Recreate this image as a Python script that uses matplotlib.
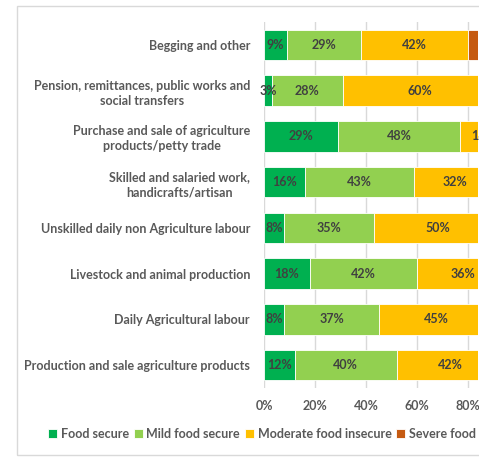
import matplotlib
matplotlib.use("Agg")
import matplotlib.pyplot as plt
from matplotlib.patches import Rectangle
import numpy as np

categories = [
    "Begging and other",
    "Pension, remittances, public works and\nsocial transfers",
    "Purchase and sale of agriculture\nproducts/petty trade",
    "Skilled and salaried work,\nhandicrafts/artisan",
    "Unskilled daily non Agriculture labour",
    "Livestock and animal production",
    "Daily Agricultural labour",
    "Production and sale agriculture products",
]
series_names = ["Food secure", "Mild food secure", "Moderate food insecure", "Severe food insecure"]
food_secure = [9, 3, 29, 16, 8, 18, 8, 12]
mild_secure = [29, 28, 48, 43, 35, 42, 37, 40]
moderate_insecure = [42, 60, 18, 32, 50, 36, 45, 42]
severe_insecure = [20, 9, 5, 9, 7, 4, 10, 6]
xticks = [0, 20, 40, 60, 80, 100]
xtick_labels = ["0%", "20%", "40%", "60%", "80%", "100%"]

colors = ["#00B050", "#92D050", "#FFC000", "#C55A11"]
label_color = "#595959"
data_color = "#404040"
FONT = "Lato"
FS = 9

W, H = 491, 476
fig = plt.figure(figsize=(W / 100, H / 100), dpi=100)
fig.patch.set_facecolor("white")

# axes placement in pixels
left, right, top, bottom = 264, 478.3, 22, 388
ax = fig.add_axes([left / W, 1 - bottom / H, (right - left) / W, (bottom - top) / H])

y = np.arange(len(categories))
series = [food_secure, mild_secure, moderate_insecure, severe_insecure]
cum = np.zeros(len(categories))
for vals, col, name in zip(series, colors, series_names):
    vals = np.array(vals, dtype=float)
    ax.barh(y, vals, left=cum, height=0.67, color=col, edgecolor="white",
            linewidth=0.6, label=name, zorder=2)
    for yi, v, c in zip(y, vals, cum):
        ax.text(c + v / 2, yi, f"{int(v)}%", ha="center", va="center",
                fontsize=FS, fontweight="bold", color=data_color, family=FONT,
                zorder=3, clip_on=False)
    cum += vals

ax.set_yticks(y)
ax.set_yticklabels(categories, fontsize=FS, fontweight="bold", color=label_color,
                   family=FONT, linespacing=1.3, multialignment="center")
ax.set_xticks(xticks)
ax.set_xticklabels(xtick_labels, fontsize=FS, fontweight="bold", color=label_color, family=FONT)
ax.set_ylim(len(categories) - 0.5, -0.5)
ax.set_xlim(0, (right - left) / 2.55)
ax.tick_params(axis="both", length=0)
ax.tick_params(axis="x", pad=9)
ax.tick_params(axis="y", pad=10)
for s in ax.spines.values():
    s.set_visible(False)
ax.grid(axis="x", color="#d9d9d9", linewidth=1, zorder=0)
ax.set_axisbelow(True)

handles, labels = ax.get_legend_handles_labels()
leg = fig.legend(handles, labels, loc="center left", bbox_to_anchor=(37 / W, 1 - 434 / H),
                 ncol=4, frameon=False,
                 prop={"family": FONT, "weight": "bold", "size": FS},
                 handlelength=0.7, handleheight=0.7, handletextpad=0.3,
                 columnspacing=0.4)
for t in leg.get_texts():
    t.set_color(label_color)

# chart border
border = Rectangle((17 / W, 1 - 455 / H), (W + 20) / W, (455 - 6) / H,
                   transform=fig.transFigure, fill=False, edgecolor="#d9d9d9",
                   linewidth=1, zorder=1)
fig.patches.append(border)
# cropping mask on the right side (reference image is cut at the plot's right edge)
mask = Rectangle((478.5 / W, 0), 1, 1, transform=fig.transFigure, facecolor="white",
                 edgecolor="none", zorder=20)
fig.patches.append(mask)

fig.savefig("out.png", dpi=100, facecolor="white")
